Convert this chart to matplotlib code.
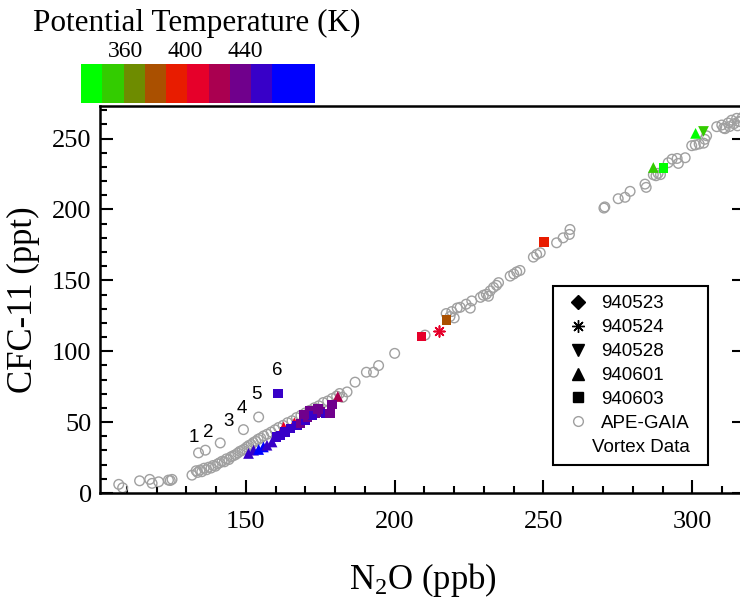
import matplotlib
matplotlib.use('Agg')
import matplotlib.pyplot as plt
import numpy as np
from matplotlib.colors import ListedColormap, BoundaryNorm
from matplotlib.lines import Line2D

plt.rcParams['font.family'] = ['Liberation Serif', 'DejaVu Serif']
plt.rcParams['mathtext.fontset'] = 'custom'
plt.rcParams['mathtext.rm'] = 'Liberation Serif'
plt.rcParams['mathtext.it'] = 'Liberation Serif:italic'

# potential temperature colour scale (K)
theta_colors = ['#00FF00', '#33CC00', '#6E8C00', '#AA5000', '#E81C00', '#E6002A',
                '#AA0050', '#70008C', '#3800C8', '#0000FF', '#0000FF']
theta_lo, theta_hi = 330, 487
theta_ticks = [360, 400, 440]

# APE-GAIA vortex data (N2O ppb, CFC-11 ppt)
gaia_n2o = [107.3, 108.6, 114.3, 117.7, 118.5, 120.7, 124.0, 125.2, 124.6, 131.9, 133.3,
            134.1, 136.4, 141.4, 149.2, 154.3,
            133.8, 134.6, 135.2, 136.0, 136.8, 137.5, 138.3, 139.0, 139.8, 140.5, 141.2,
            142.0, 142.8, 143.5, 144.3, 145.0, 145.8, 146.5, 147.3, 148.0, 148.8, 149.5,
            150.3, 151.0, 151.8, 152.5, 153.3, 154.1, 155.0, 156.0, 157.2, 158.5, 159.8,
            161.0, 162.5, 164.0, 165.5, 167.0, 168.5, 170.0, 171.5, 173.0, 174.5, 176.0,
            177.5, 179.0, 180.5, 181.5, 182.5, 184.0, 186.7, 190.5, 192.9, 194.6, 200.0,
            210.2, 217.3, 219.2, 218.6, 220.0, 221.0, 222.0, 224.0, 225.4, 225.9, 228.8,
            229.8, 230.8, 231.5, 232.1, 233.2, 234.2, 234.9, 238.8, 240.0, 241.0, 242.1,
            246.6, 247.7, 248.9, 254.4, 256.6, 258.7, 258.9,
            270.3, 270.6, 275.1, 277.4, 279.1, 284.5, 284.1, 286.9, 287.8, 288.5, 289.3,
            291.9, 293.2, 294.9, 295.3, 297.6, 299.8, 301.0, 302.3, 303.8, 304.2, 304.8,
            308.2, 309.9, 311.0, 312.0, 313.2, 314.0, 314.9, 315.5, 316.0, 316.8, 312.5,
            310.5, 315.2]
gaia_cfc = [6.1, 3.7, 8.6, 9.6, 6.8, 7.9, 9.1, 9.6, 8.8, 12.6, 15.7,
            28.3, 30.2, 35.3, 44.7, 53.6,
            14.5, 16.2, 15.0, 17.5, 16.4, 18.2, 17.6, 19.4, 18.9, 20.5, 21.3,
            22.4, 22.0, 24.1, 23.6, 25.5, 26.3, 27.0, 28.2, 29.4, 30.1, 31.0,
            32.4, 33.5, 34.2, 35.6, 36.5, 37.9, 38.8, 40.3, 41.5, 43.0, 44.6,
            46.2, 47.7, 49.6, 51.0, 53.2, 54.8, 56.5, 58.3, 60.1, 61.5, 63.8,
            64.9, 66.7, 68.4, 70.2, 67.5, 71.3, 78.2, 85.2, 85.2, 89.9, 98.5,
            111.4, 126.6, 128.0, 124.5, 123.5, 130.5, 131.0, 133.2, 130.4, 135.5, 138.0,
            139.5, 140.2, 138.8, 142.6, 145.0, 146.5, 148.4, 153.0, 154.5, 156.0, 157.0,
            166.4, 168.3, 169.5, 176.5, 180.0, 182.4, 185.9,
            201.0, 201.8, 207.6, 208.6, 212.8, 215.6, 217.9, 224.5, 223.8, 225.5, 224.6,
            233.0, 235.5, 236.0, 232.5, 236.5, 245.0, 245.5, 246.2, 246.8, 249.5, 252.0,
            258.4, 259.6, 257.0, 261.0, 263.0, 260.5, 264.3, 262.0, 262.0, 265.0, 258.5,
            257.5, 259.0]

# flight 940524 (asterisk)
f524_n2o = [214.9]
f524_cfc = [114.5]
f524_theta = [409]

# flight 940528 (down triangle)
f528_n2o = [303.5]
f528_cfc = [255.4]
f528_theta = [351]

# flight 940601 (up triangle)
f601_n2o = [286.9, 301.1, 162.7, 166.3, 180.9, 150.9, 152.6, 154.3, 155.9, 157.1, 158.8]
f601_cfc = [229.6, 253.7, 46.6, 49.6, 68.1, 27.9, 30.2, 30.7, 32.5, 33.7, 36.0]
f601_theta = [351, 337, 409, 409, 423, 451, 451, 466, 466, 451, 451]

# flight 940603 (square)
f603_n2o = [290.3, 250.2, 217.5, 209.1, 160.8, 160.4, 161.6, 163.2, 164.9, 167.2, 168.3,
            170.0, 171.6, 173.3, 175.0, 176.7, 178.3, 178.9, 170.8, 172.5, 174.2, 169.5]
f603_cfc = [229.2, 177.0, 122.0, 110.5, 70.0, 39.5, 40.7, 43.0, 45.4, 47.8, 48.9,
            51.3, 58.3, 56.0, 57.1, 56.0, 56.0, 62.3, 53.5, 54.5, 59.2, 55.5]
f603_theta = [337, 394, 380, 409, 451, 451, 451, 451, 451, 451, 437,
              451, 437, 437, 437, 451, 437, 437, 437, 451, 437, 437]

# numbered annotations
note_text = ['1', '2', '3', '4', '5', '6']
note_n2o = [132.4, 137.5, 144.2, 148.7, 153.7, 160.6]
note_cfc = [39.5, 43.0, 50.6, 59.5, 69.5, 86.4]

legend_labels = ['940523', '940524', '940528', '940601', '940603', 'APE-GAIA', 'Vortex Data']

cmap = ListedColormap(theta_colors)
norm = BoundaryNorm(np.linspace(theta_lo, theta_hi, len(theta_colors) + 1), cmap.N)

fig = plt.figure(figsize=(7.4, 5.98), dpi=100)
ax = fig.add_axes([100 / 740, 105 / 598, 645 / 740, 387 / 598])

ax.scatter(gaia_n2o, gaia_cfc, s=48, facecolors='none', edgecolors='#A0A0A0',
           linewidths=1.0, zorder=2)
ax.scatter(f601_n2o, f601_cfc, c=f601_theta, cmap=cmap, norm=norm, marker='^', s=60,
           linewidths=0, zorder=3)
ax.scatter(f603_n2o, f603_cfc, c=f603_theta, cmap=cmap, norm=norm, marker='s', s=45,
           linewidths=0, zorder=3)
ax.scatter(f528_n2o, f528_cfc, c=f528_theta, cmap=cmap, norm=norm, marker='v', s=60,
           linewidths=0, zorder=3)
ax.scatter(f524_n2o, f524_cfc, c=f524_theta, cmap=cmap, norm=norm, marker=(8, 2, 0), s=60,
           linewidths=1.2, zorder=3)

for t, xx, yy in zip(note_text, note_n2o, note_cfc):
    ax.text(xx, yy, t, family='Liberation Sans', fontsize=13.5, ha='center', va='center')

ax.set_xlim(101, 317.7)
ax.set_ylim(0, 273)
ax.set_xticks([150, 200, 250, 300])
ax.set_xticks(np.arange(110, 318, 10), minor=True)
ax.set_yticks([0, 50, 100, 150, 200, 250])
ax.set_yticks(np.arange(0, 274, 10), minor=True)
ax.tick_params(which='both', direction='in', labelsize=19, width=1.5)
ax.tick_params(which='major', length=9.5)
ax.tick_params(which='minor', length=4.7)
ax.tick_params(axis='y', which='major', right=True, pad=6)
ax.tick_params(axis='x', which='major', pad=13)
for sp in ax.spines.values():
    sp.set_linewidth(1.8)

ax.set_xlabel(r'N$_\mathrm{2}$O (ppb)', fontsize=25)
ax.set_ylabel('CFC-11 (ppt)', fontsize=25)
ax.xaxis.set_label_coords(0.5, -0.175)
ax.yaxis.set_label_coords(-0.093, 0.5)

handles = [
    Line2D([], [], ls='none', marker='D', color='k', markersize=7),
    Line2D([], [], ls='none', marker=(8, 2, 0), color='k', markersize=9, markeredgewidth=1),
    Line2D([], [], ls='none', marker='v', color='k', markersize=8),
    Line2D([], [], ls='none', marker='^', color='k', markersize=8),
    Line2D([], [], ls='none', marker='s', color='k', markersize=7),
    Line2D([], [], ls='none', marker='o', markerfacecolor='none', markeredgecolor='#A0A0A0',
           markersize=7),
    Line2D([], [], ls='none'),
]
leg = ax.legend(handles, legend_labels, loc='upper left', bbox_to_anchor=(0.703, 0.535),
                borderaxespad=0, prop={'family': 'Liberation Sans', 'size': 13.5},
                frameon=True, fancybox=False, edgecolor='k', framealpha=1,
                handlelength=1.6, handletextpad=0.45, labelspacing=0.36, borderpad=0.5)
leg.get_frame().set_linewidth(1.5)
leg.get_texts()[-1].set_x(-9)

# colour bar for potential temperature
cax = fig.add_axes([81 / 740, 495 / 598, 234 / 740, 39 / 598])
cax.imshow(np.arange(len(theta_colors))[None, :], cmap=cmap, aspect='auto',
           extent=(theta_lo, theta_hi, 0, 1), interpolation='nearest')
cax.set_xlim(theta_lo, theta_hi)
cax.set_xticks(theta_ticks)
cax.set_yticks([])
cax.xaxis.tick_top()
cax.tick_params(axis='x', length=0, labelsize=17, pad=1.5)
for sp in cax.spines.values():
    sp.set_visible(False)
fig.text(197 / 740, 1 - 23 / 598, 'Potential Temperature (K)', fontsize=22.5,
         ha='center', va='center')

fig.savefig('out.png', dpi=100)
